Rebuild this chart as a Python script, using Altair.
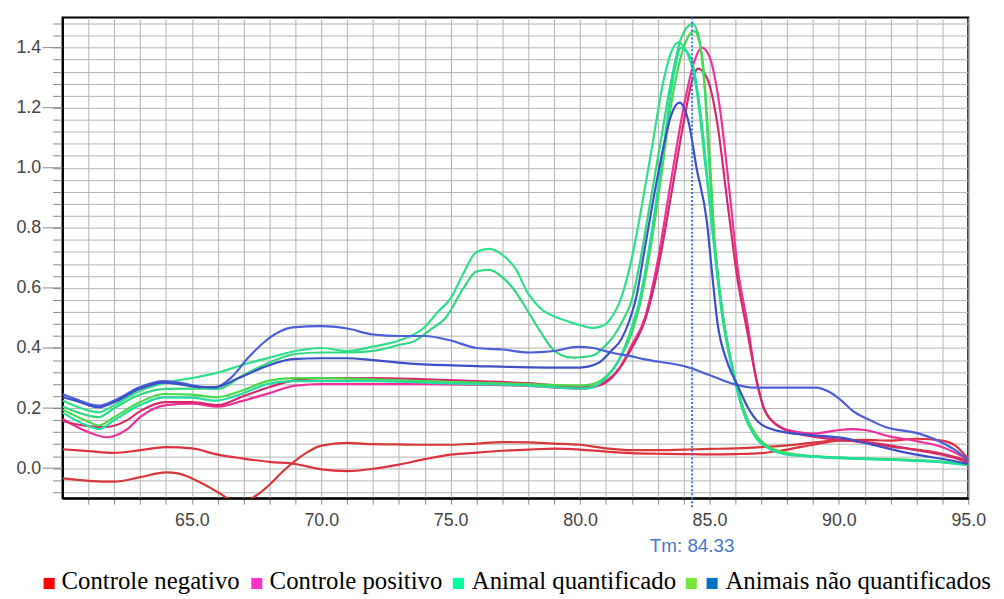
import altair as alt
import pandas as pd

# ---------------- data ----------------
NEG1_X = [60, 61, 62, 63, 64, 65, 66, 67, 68, 69, 70, 71, 72, 73, 74, 75, 76, 77, 78, 79, 80,
          81, 82, 83, 84, 85, 86, 87, 88, 89, 90, 91, 92, 93, 94, 94.5, 95]
NEG1_Y = [0.063, 0.057, 0.051, 0.06, 0.07, 0.066, 0.045, 0.032, 0.021, 0.014, -0.004, -0.01, -0.002,
          0.012, 0.03, 0.045, 0.052, 0.058, 0.062, 0.065, 0.062, 0.055, 0.05, 0.048, 0.047, 0.046,
          0.047, 0.05, 0.062, 0.078, 0.092, 0.094, 0.092, 0.098, 0.092, 0.075, 0.03]

NEG2_X = [60, 61, 62, 63, 64, 64.5, 65, 65.5, 66, 66.5, 67, 67.5, 68, 68.5, 69, 69.5, 70, 71, 72,
          73, 74, 75, 76, 77, 78, 79, 80, 81, 82, 83, 84, 85, 86, 87, 88, 89, 90, 91, 92, 93, 94, 95]
NEG2_Y = [-0.034, -0.042, -0.045, -0.03, -0.014, -0.018, -0.034, -0.055, -0.08, -0.105, -0.112,
          -0.09, -0.055, -0.012, 0.025, 0.055, 0.075, 0.084, 0.08, 0.079, 0.078, 0.078, 0.082,
          0.087, 0.086, 0.082, 0.078, 0.066, 0.06, 0.06, 0.062, 0.064, 0.066, 0.07, 0.076, 0.085,
          0.093, 0.085, 0.072, 0.062, 0.048, 0.025]

POS1_X = [60, 61, 61.7, 62.5, 63, 64, 65, 66, 67, 68, 69, 70, 72, 74, 76, 78, 80, 80.5, 81, 81.5,
          82, 82.5, 83, 83.5, 84, 84.4, 84.7, 85.0, 85.4, 85.8, 86.1, 86.45, 86.8, 87.1, 87.4,
          87.8, 88.3, 89, 89.5, 90, 90.5, 91, 92, 93, 94, 95]
POS1_Y = [0.164, 0.12, 0.103, 0.13, 0.17, 0.21, 0.215, 0.205, 0.225, 0.25, 0.275, 0.28, 0.28, 0.28,
          0.278, 0.274, 0.265, 0.27, 0.285, 0.33, 0.41, 0.5, 0.69, 0.95, 1.2, 1.35, 1.40, 1.37,
          1.2, 0.9, 0.66, 0.49, 0.3, 0.2, 0.16, 0.135, 0.122, 0.115, 0.12, 0.127, 0.13, 0.127,
          0.105, 0.09, 0.07, 0.03]

POS2_X = [60, 61, 61.7, 62.5, 63, 64, 65, 66, 67, 68, 69, 70, 72, 74, 76, 78, 80, 80.5, 81, 81.5,
          82, 82.5, 83, 83.5, 84, 84.3, 84.55, 84.9, 85.3, 85.7, 86.1, 86.45, 86.8, 87.1, 87.5,
          88, 89, 90, 91, 92, 93, 94, 95]
POS2_Y = [0.157, 0.14, 0.137, 0.16, 0.19, 0.22, 0.22, 0.21, 0.24, 0.27, 0.293, 0.3, 0.3, 0.296,
          0.29, 0.283, 0.27, 0.272, 0.29, 0.33, 0.4, 0.49, 0.66, 0.9, 1.15, 1.28, 1.33, 1.3, 1.15,
          0.88, 0.62, 0.46, 0.3, 0.2, 0.15, 0.125, 0.105, 0.095, 0.088, 0.075, 0.06, 0.045, 0.02]

GRA_X = [60, 61, 61.4, 62, 63, 64, 65, 66, 67, 68, 69, 70, 71, 72, 73, 74, 74.5, 75, 75.5, 76,
         76.5, 77, 77.5, 78, 78.5, 79, 79.5, 80, 80.5, 81, 81.2, 81.6, 82, 82.4, 82.8, 83.2, 83.5,
         83.78, 84.1, 84.5, 84.85, 85.18, 85.55, 85.9, 86.3, 86.8, 87.3, 88, 89, 90, 92, 94, 95]
GRA_Y = [0.225, 0.192, 0.186, 0.21, 0.258, 0.285, 0.30, 0.318, 0.345, 0.368, 0.39, 0.40, 0.39,
         0.405, 0.425, 0.47, 0.52, 0.565, 0.65, 0.72, 0.73, 0.71, 0.665, 0.58, 0.53, 0.505, 0.49,
         0.476, 0.467, 0.48, 0.5, 0.57, 0.70, 0.88, 1.08, 1.28, 1.38, 1.417, 1.39, 1.26, 1.0,
         0.754, 0.489, 0.33, 0.2, 0.11, 0.07, 0.05, 0.04, 0.035, 0.03, 0.02, 0.012]

GRB_X = [60, 61, 61.4, 62, 63, 64, 65, 66, 67, 68, 69, 70, 71, 72, 73, 73.6, 74.2, 74.8, 75.5, 76,
         76.5, 77, 77.4, 78, 78.5, 78.9, 79.3, 79.7, 80.1, 80.5, 81, 81.3, 81.7, 82, 82.3, 82.7,
         83.1, 83.5, 83.9, 84.35, 84.6, 84.85, 85.0, 85.18, 85.55, 85.9, 86.3, 86.8, 87.3, 88, 89,
         90, 92, 94, 95]
GRB_Y = [0.205, 0.175, 0.17, 0.2, 0.245, 0.264, 0.265, 0.264, 0.31, 0.352, 0.38, 0.385, 0.385,
         0.39, 0.41, 0.423, 0.46, 0.5, 0.6, 0.655, 0.66, 0.635, 0.6, 0.52, 0.45, 0.40, 0.375,
         0.368, 0.37, 0.375, 0.41, 0.44, 0.50, 0.56, 0.68, 0.88, 1.08, 1.28, 1.43, 1.479, 1.43,
         1.22, 1.0, 0.76, 0.49, 0.33, 0.19, 0.105, 0.068, 0.048, 0.038, 0.033, 0.028, 0.02, 0.01]

GRC_X = [60, 61, 61.4, 62, 63, 63.9, 65, 65.9, 67, 67.9, 68.9, 70, 72, 74, 76, 78, 80, 80.5, 81,
         81.5, 82, 82.3, 82.7, 83.1, 83.5, 84.0, 84.4, 84.7, 85.0, 85.2, 85.55, 85.9, 86.3, 86.8,
         87.3, 88, 89, 90, 92, 94, 95]
GRC_Y = [0.195, 0.155, 0.142, 0.17, 0.22, 0.247, 0.245, 0.236, 0.26, 0.29, 0.30, 0.30, 0.296,
         0.29, 0.285, 0.28, 0.275, 0.28, 0.305, 0.36, 0.45, 0.54, 0.72, 0.95, 1.2, 1.40, 1.455,
         1.38, 1.05, 0.76, 0.49, 0.33, 0.2, 0.11, 0.07, 0.05, 0.04, 0.035, 0.03, 0.022, 0.012]

GRD_X = [60, 61, 61.4, 62, 63, 63.9, 65, 65.9, 67, 67.9, 68.9, 70, 72, 74, 76, 78, 80, 80.5, 81,
         81.5, 82, 82.3, 82.7, 83.2, 83.6, 83.9, 84.3, 84.7, 85.1, 85.5, 85.9, 86.3, 86.8, 87.3,
         88, 90, 92, 94, 95]
GRD_Y = [0.185, 0.14, 0.13, 0.16, 0.21, 0.236, 0.235, 0.225, 0.25, 0.28, 0.29, 0.29, 0.29, 0.285,
         0.28, 0.275, 0.265, 0.27, 0.3, 0.36, 0.47, 0.56, 0.75, 1.05, 1.3, 1.40, 1.36, 1.15, 0.8,
         0.5, 0.32, 0.19, 0.1, 0.065, 0.045, 0.035, 0.028, 0.02, 0.01]

BLA_X = [60, 60.5, 61.4, 62, 63, 63.9, 64.5, 65.3, 65.9, 66.5, 67.2, 67.8, 68.4, 68.9, 70, 71, 72,
         73, 74, 75, 76, 77, 78, 79, 79.9, 80.5, 81.2, 82, 82.5, 83, 84, 85, 85.95, 86.7, 88, 89.1,
         89.67, 90.1, 90.55, 91.2, 91.8, 93.1, 94.1, 94.5, 95]
BLA_Y = [0.247, 0.23, 0.208, 0.225, 0.27, 0.29, 0.285, 0.272, 0.269, 0.30, 0.37, 0.42, 0.455,
         0.469, 0.473, 0.465, 0.445, 0.44, 0.44, 0.425, 0.40, 0.395, 0.385, 0.39, 0.404, 0.40,
         0.385, 0.372, 0.362, 0.355, 0.34, 0.31, 0.28, 0.268, 0.268, 0.268, 0.252, 0.225, 0.19,
         0.16, 0.137, 0.115, 0.08, 0.06, 0.025]

BLB_X = [60, 60.5, 61.4, 62, 63, 63.9, 64.5, 65.3, 65.9, 66.8, 67.9, 68.9, 70, 71, 72, 73.6, 76,
         78.7, 80, 80.7, 81.2, 81.6, 81.9, 82.2, 82.4, 82.8, 83.2, 83.5, 83.84, 84.2, 84.5, 84.9,
         85.1, 85.3, 85.7, 86.06, 86.5, 86.83, 87.6, 88.9, 90.2, 91.05, 92.7, 94.9, 95]
BLB_Y = [0.236, 0.225, 0.203, 0.22, 0.265, 0.285, 0.28, 0.27, 0.27, 0.30, 0.34, 0.363, 0.366,
         0.366, 0.36, 0.347, 0.34, 0.335, 0.335, 0.35, 0.39, 0.43, 0.49, 0.58, 0.68, 0.88, 1.06,
         1.17, 1.217, 1.15, 1.0, 0.82, 0.65, 0.49, 0.35, 0.28, 0.2, 0.159, 0.125, 0.11, 0.1,
         0.083, 0.05, 0.016, 0.014]

CURVE_NAMES = ["neg1", "neg2", "pos1", "pos2", "grA", "grB", "grC", "grD", "blA", "blB"]
CURVE_XS = [NEG1_X, NEG2_X, POS1_X, POS2_X, GRA_X, GRB_X, GRC_X, GRD_X, BLA_X, BLB_X]
CURVE_YS = [NEG1_Y, NEG2_Y, POS1_Y, POS2_Y, GRA_Y, GRB_Y, GRC_Y, GRD_Y, BLA_Y, BLB_Y]
CURVE_COLORS = ["#e0303e", "#d83838", "#f0309a", "#d42a6c", "#2ee08a", "#30d880",
                "#4ad94a", "#22dda0", "#4a5fd8", "#3b4fc8"]

X_TICKS = list(range(61, 96))
Y_TICKS = [round(-0.08 + 0.04 * k, 2) for k in range(40)]
Y_MAJOR = [0.0, 0.2, 0.4, 0.6, 0.8, 1.0, 1.2, 1.4]
TM_VALUE = 84.33

LEGEND_LABELS = ["Controle negativo", "Controle positivo", "Animal quantificado",
                 "Animais não quantificados"]
LEGEND_COLORS = ["#ff0000", "#ff33cc", "#00ff99", "#77e63c", "#0070c0"]

# ---------------- build ----------------
rows = []
for name, xs, ys in zip(CURVE_NAMES, CURVE_XS, CURVE_YS):
    for xv, yv in zip(xs, ys):
        rows.append({"curve": name, "x": xv, "y": yv})
df = pd.DataFrame(rows)

x_scale = alt.Scale(domain=[60, 95], nice=False, zero=False)
y_scale = alt.Scale(domain=[-0.1, 1.5], nice=False, zero=False)

x_axis = alt.Axis(
    values=X_TICKS, title=None,
    labelExpr="datum.value % 5 == 0 ? format(datum.value, '.1f') : ''",
    grid=True, gridColor="#b4b4b4", gridWidth=1,
    tickSize=6, tickColor="#888888", tickWidth=1,
    labelFont="Liberation Sans", labelFontSize=18, labelColor="#444444",
    labelPadding=8, labelFlush=False, labelOverlap=False,
    domainColor="black", domainWidth=2,
)
y_axis = alt.Axis(
    values=Y_TICKS, title=None,
    labelExpr="datum.value > -0.001 && abs(datum.value * 5 - round(datum.value * 5)) < 0.001 ? format(datum.value, '.1f') : ''",
    grid=True, gridColor="#b4b4b4", gridWidth=1,
    tickSize=10, tickColor="#888888", tickWidth=1,
    labelFont="Liberation Sans", labelFontSize=18, labelColor="#444444",
    labelPadding=12, labelFlush=False, labelOverlap=False,
    domainColor="black", domainWidth=2,
)

lines = alt.Chart(df).mark_line(clip=True, strokeWidth=2.2, interpolate="monotone").encode(
    x=alt.X("x:Q", scale=x_scale, axis=x_axis),
    y=alt.Y("y:Q", scale=y_scale, axis=y_axis),
    color=alt.Color("curve:N", scale=alt.Scale(domain=CURVE_NAMES, range=CURVE_COLORS), legend=None),
)

major_ticks = alt.Chart(pd.DataFrame({"y": Y_MAJOR})).mark_rule(color="#888888", strokeWidth=1).encode(
    y=alt.Y("y:Q", scale=y_scale, axis=y_axis),
    x=alt.value(-20), x2=alt.value(0),
)

tm_df = pd.DataFrame({"x": [TM_VALUE], "label": [f"Tm: {TM_VALUE:.2f}"]})
tm_rule = alt.Chart(tm_df).mark_rule(color="#3a6fd8", strokeWidth=2, strokeDash=[2, 2]).encode(
    x=alt.X("x:Q", scale=x_scale, axis=x_axis),
    y=alt.value(0), y2=alt.value(494),
)
tm_text = alt.Chart(tm_df).mark_text(font="Liberation Sans", fontSize=19, color="#4a78c8",
                                     align="center", baseline="middle").encode(
    x=alt.X("x:Q", scale=x_scale, axis=x_axis),
    y=alt.value(533),
    text="label:N",
)

one = pd.DataFrame({"k": [0]})
sq_pos = [-13.5, 196, 399.5, 634.5, 655.5]
txt_pos = [-1, 209, 413, 669]
legend_layers = []
for c, px in zip(LEGEND_COLORS, sq_pos):
    legend_layers.append(
        alt.Chart(one).mark_square(size=125, color=c, opacity=1).encode(
            x=alt.value(px), y=alt.value(571))
    )
for lab, px in zip(LEGEND_LABELS, txt_pos):
    legend_layers.append(
        alt.Chart(one).mark_text(font="Liberation Serif", fontSize=25, color="black",
                                 align="left", baseline="alphabetic").encode(
            x=alt.value(px), y=alt.value(577), text=alt.value(lab))
    )

chart = alt.layer(lines, major_ticks, tm_rule, tm_text, *legend_layers).properties(
    width=914, height=485,
    padding={"left": 55, "top": 7, "right": 28, "bottom": 98},
    autosize=alt.AutoSizeParams(type="none"),
    background="white",
).configure_view(stroke="black", strokeWidth=2)

chart.save("out.html", embed_options={"renderer": "svg", "actions": False})
